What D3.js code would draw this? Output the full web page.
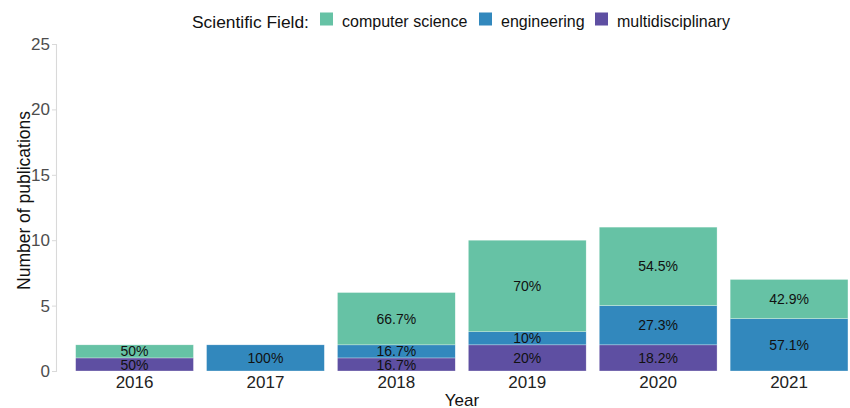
<!DOCTYPE html>
<html>
<head>
<meta charset="utf-8">
<script src="https://cdn.jsdelivr.net/npm/d3@7"></script>
<style>
  html, body { margin: 0; padding: 0; background: #ffffff; }
  svg { display: block; font-family: "Liberation Sans", Arial, sans-serif; }
</style>
</head>
<body>
<svg id="chart" width="850" height="408"></svg>
<script>
// ---- data ----
const years = ["2016", "2017", "2018", "2019", "2020", "2021"];
const fields = ["multidisciplinary", "engineering", "computer science"]; // stack order bottom -> top
const legendFields = ["computer science", "engineering", "multidisciplinary"];
const multidisciplinary = [1, 0, 1, 2, 2, 0];
const engineering = [0, 2, 1, 1, 3, 4];
const computerScience = [1, 0, 4, 7, 6, 3];
const yTicks = [0, 5, 10, 15, 20, 25];

const colors = {
  "computer science": "#66c2a5",
  "engineering": "#3288bd",
  "multidisciplinary": "#5e4fa2"
};

const rows = years.map((y, i) => ({
  year: y,
  "multidisciplinary": multidisciplinary[i],
  "engineering": engineering[i],
  "computer science": computerScience[i]
}));

const svg = d3.select("#chart");

const x = d3.scaleBand().domain(years).range([56, 867.6]).paddingInner(0.1).paddingOuter(0.15);
const y = d3.scaleLinear().domain([0, 25]).range([371, 44]);

// y axis
const yAxis = svg.append("g").attr("transform", "translate(56,0)")
  .call(d3.axisLeft(y).tickValues(yTicks).tickSize(4).tickPadding(2));
yAxis.select(".domain").attr("stroke", "#d9d9d9").attr("stroke-width", 1.1);
yAxis.selectAll(".tick line").attr("stroke", "#d9d9d9");
yAxis.selectAll(".tick text").attr("fill", "#4d4d4d").attr("font-size", "17px")
  .attr("font-family", "Liberation Sans, Arial, sans-serif");

// stacked bars
const stack = d3.stack().keys(fields)(rows);
const layers = svg.append("g").selectAll("g").data(stack).join("g")
  .attr("fill", d => colors[d.key]);
layers.selectAll("rect").data(d => d.map(v => ({v, key: d.key}))).join("rect")
  .filter(d => d.v[1] - d.v[0] > 0)
  .attr("x", d => x(d.v.data.year))
  .attr("width", x.bandwidth())
  .attr("y", d => y(d.v[1]))
  .attr("height", d => y(d.v[0]) - y(d.v[1]))
  .attr("stroke", "#ffffff").attr("stroke-width", 0.5).attr("stroke-opacity", 0.6);

// labels
const labels = svg.append("g");
stack.forEach(layer => {
  layer.forEach(v => {
    const val = v[1] - v[0];
    if (val <= 0) return;
    const total = fields.reduce((s, k) => s + v.data[k], 0);
    const pct = Math.round(val / total * 1000) / 10;
    labels.append("text")
      .attr("x", x(v.data.year) + x.bandwidth() / 2)
      .attr("y", y((v[0] + v[1]) / 2))
      .attr("dy", "0.36em")
      .attr("text-anchor", "middle")
      .attr("font-size", "14px")
      .attr("fill", "#111111")
      .text(pct + "%");
  });
});

// x axis labels
const xAxis = svg.append("g").attr("transform", "translate(0,371)")
  .call(d3.axisBottom(x).tickSize(0).tickPadding(5));
xAxis.select(".domain").remove();
xAxis.selectAll(".tick text").attr("fill", "#222222").attr("font-size", "17px")
  .attr("font-family", "Liberation Sans, Arial, sans-serif");

// axis titles
svg.append("text").attr("x", 462).attr("y", 406).attr("text-anchor", "middle")
  .attr("font-size", "17px").attr("fill", "#111111").text("Year");
svg.append("text").attr("transform", "translate(30,200.5) rotate(-90)")
  .attr("text-anchor", "middle").attr("font-size", "17.5px").attr("fill", "#111111")
  .text("Number of publications");

// legend
const legend = svg.append("g");
legend.append("text").attr("x", 192).attr("y", 27.5).attr("font-size", "17.4px")
  .attr("fill", "#111111").text("Scientific Field:");
const keyX = [320, 479, 595];
const textX = [342, 501, 617];
legendFields.forEach((f, i) => {
  legend.append("rect").attr("x", keyX[i]).attr("y", 12.5).attr("width", 13).attr("height", 13)
    .attr("fill", colors[f]);
  legend.append("text").attr("x", textX[i]).attr("y", 26.5).attr("font-size", "16px")
    .attr("fill", "#111111").text(f);
});
</script>
</body>
</html>
